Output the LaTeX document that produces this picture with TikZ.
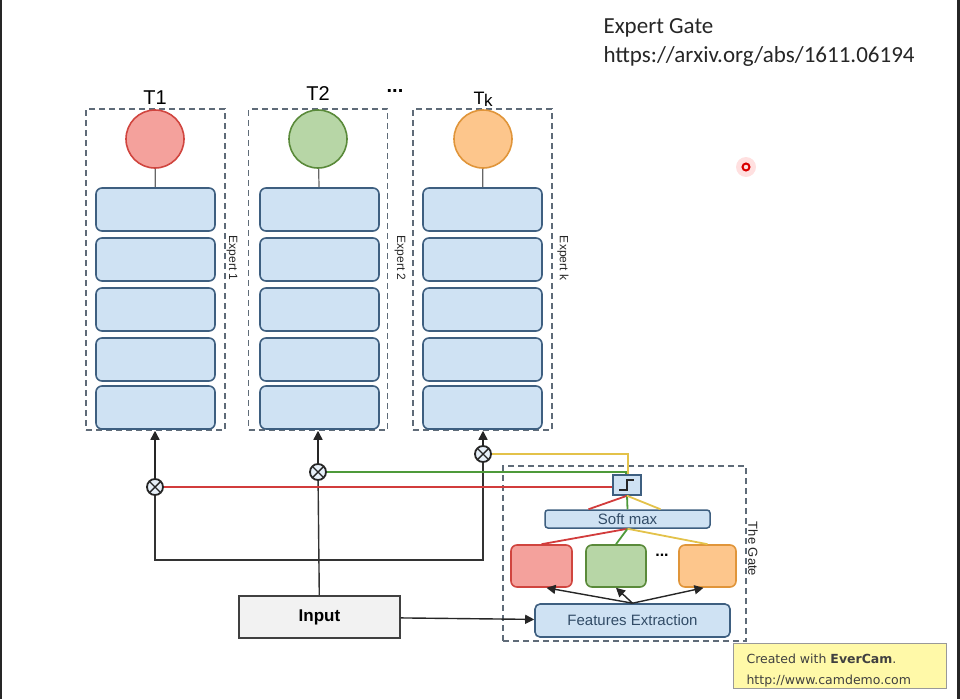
\documentclass[tikz,border=0pt]{standalone}
\usepackage{fontspec}
\setmainfont{Liberation Sans}
\newfontfamily\notefont{Carlito}
\newfontfamily\camfont{DejaVu Sans}
\usetikzlibrary{arrows.meta, positioning}

\definecolor{layerfill}{HTML}{CFE2F3}
\definecolor{layerdraw}{HTML}{3E5F80}
\definecolor{dashgray}{HTML}{5F6B78}
\definecolor{redfill}{HTML}{F4A19C}
\definecolor{reddraw}{HTML}{D0453F}
\definecolor{greenfill}{HTML}{B7D6A6}
\definecolor{greendraw}{HTML}{5A8A3A}
\definecolor{orangefill}{HTML}{FDC68C}
\definecolor{orangedraw}{HTML}{E0953A}
\definecolor{redwire}{HTML}{D23C3C}
\definecolor{greenwire}{HTML}{4E9A3A}
\definecolor{yellowwire}{HTML}{E3C24A}
\definecolor{notefill}{HTML}{FFF9A8}

\begin{document}
\begin{tikzpicture}[
  x=1pt, y=-1pt,
  expert/.style={rectangle, draw=dashgray, line width=1.5pt, dash pattern=on 6pt off 4pt, minimum width=139pt, minimum height=321pt},
  layer/.style={rectangle, draw=layerdraw, fill=layerfill, line width=1.6pt, rounded corners=6pt, minimum width=119pt, minimum height=43pt},
  task/.style={circle, line width=1.6pt, minimum size=58pt},
  gatebox/.style={rectangle, line width=1.6pt, rounded corners=6pt, minimum width=60pt, minimum height=42pt},
  mult/.style={circle, draw=black!85, line width=1.8pt, fill=layerfill!50, minimum size=16pt, inner sep=0pt,
    path picture={\draw[line width=1.4pt, black!85] (path picture bounding box.north west) -- (path picture bounding box.south east)
      (path picture bounding box.north east) -- (path picture bounding box.south west);}},
  arrow/.style={-{Triangle[length=9pt,width=9pt]}, line width=1.4pt, black!85},
  wire/.style={line width=1.4pt, black!80},
  colwire/.style={line width=1.8pt},
  tag/.style={font=\fontsize{12}{12}\selectfont, rotate=-90, black!85},
  title/.style={font=\fontsize{20}{20}\selectfont, anchor=base}
]
\useasboundingbox (0,0) rectangle (960,699);

% Frame edges
\fill[black!85] (0,0) rectangle (2,699);
\fill[black!85] (957,0) rectangle (960,699);

% Experts
\node[expert] (E1) at (155.5,269.5) {};
\node[expert] (E2) at (318,269.5) {};
\node[expert] (Ek) at (482.5,269.5) {};
\node[tag] at (232,258) {Expert 1};
\node[tag] at (400,258) {Expert 2};
\node[tag] at (563,258) {Expert k};

\foreach \c/\x in {1/155.5, 2/319.5, k/482.5} {
  \foreach \i/\y in {1/209.5, 2/259.5, 3/309.5, 4/359.5, 5/407.5} {
    \node[layer] (L\c\i) at (\x,\y) {};
  }
}

% Task towers
\node[task, draw=reddraw, fill=redfill] (T1) at (155,139) {};
\node[task, draw=greendraw, fill=greenfill] (T2) at (318,139) {};
\node[task, draw=orangedraw, fill=orangefill] (Tk) at (483,139) {};
\draw[black!60, line width=1.2pt] (T1) -- (L11);
\draw[black!60, line width=1.2pt] (T2) -- (L21);
\draw[black!60, line width=1.2pt] (Tk) -- (Lk1);

\node[title] (t1) at (155,104) {T1};
\node[title] (t2) at (318,100) {T2};
\node[title, font=\fontsize{18}{18}\selectfont] (tk) at (483,104) {T\kern-0.5pt\raisebox{-2pt}{\fontsize{17}{17}\selectfont k}};
\node[font=\bfseries\fontsize{20}{20}\selectfont] (dots) at (395,91) {...};

% Gating products
\node[mult] (m1) at (155,487) {};
\node[mult] (m2) at (318,472) {};
\node[mult] (mk) at (483,454) {};
\draw[arrow] (m1) -- (m1 |- E1.south);
\draw[arrow] (m2) -- (m2 |- E2.south);
\draw[arrow] (mk) -- (mk |- Ek.south);

% Input
\node[draw=black!75, fill=black!5, line width=1.5pt, minimum width=161pt, minimum height=42pt,
  font=\bfseries\fontsize{17}{17}\selectfont] (input) at (319.5,617) {Input};
\coordinate (split) at (318,560);
\draw[wire] (input) -- (m2);
\draw[wire] (m1) |- (split);
\draw[wire] (mk) |- (split);

% The gate
\node[expert, minimum width=243pt, minimum height=175pt] (gate) at (624.5,553.5) {};
\node[tag, font=\fontsize{13}{13}\selectfont] at (753,549) {The Gate};
\node[draw=layerdraw, fill=layerfill, line width=1.5pt, minimum width=28pt, minimum height=20pt] (step) at (627,485) {};
\draw[line width=1.4pt, black!85] ([shift={(-8,5)}]step.center) -- ++(8,0) -- ++(0,-10) -- ++(7,0);
\node[rectangle, draw=layerdraw, fill=layerfill, line width=1.5pt, rounded corners=3pt, minimum width=165pt, minimum height=18pt,
  inner sep=1pt, font=\fontsize{15}{15}\selectfont, text=layerdraw!80!black] (soft) at (627.5,519) {Soft max};
\node[gatebox, draw=reddraw, fill=redfill, minimum width=61pt] (g1) at (541.5,566) {};
\node[gatebox, draw=greendraw, fill=greenfill] (g2) at (616,566) {};
\node[gatebox, draw=orangedraw, fill=orangefill, minimum width=57pt] (g3) at (707.5,566) {};
\node[font=\bfseries\fontsize{16}{16}\selectfont] (gdots) at (662,555) {...};
\node[rectangle, draw=layerdraw, fill=layerfill, line width=1.6pt, rounded corners=5pt, minimum width=195pt, minimum height=33pt,
  font=\fontsize{15}{15}\selectfont, text=layerdraw!80!black] (fe) at (632.5,620.5) {Features Extraction};

% Gate wiring
\draw[colwire, redwire] (m1) -- (m1 -| step.west);
\draw[colwire, greenwire] (m2) -| ([xshift=-1pt]step.north);
\draw[colwire, yellowwire] (mk) -| ([xshift=1pt]step.north);
\draw[colwire, redwire] (step.south) -- ([xshift=-39pt]soft.north);
\draw[colwire, greenwire] (step.south) -- (soft.north);
\draw[colwire, yellowwire] (step.south) -- ([xshift=33pt]soft.north);
\draw[colwire, redwire] (soft.south) -- (g1.north);
\draw[colwire, greenwire] (soft.south) -- (g2.north);
\draw[colwire, yellowwire] (soft.south) -- (g3.north);
\draw[arrow] (fe.north) -- ([xshift=5pt]g1.south);
\draw[arrow] (fe.north) -- (g2.south);
\draw[arrow] (fe.north) -- ([xshift=-4pt]g3.south);
\draw[arrow] (input) -- (fe);

% Notes
\node[anchor=base west, font=\notefont\fontsize{23}{23}\selectfont, text=black!85] (paper) at (600,33) {Expert Gate};
\node[anchor=base west, font=\notefont\fontsize{23}{23}\selectfont, text=black!85] (link) at (600,62) {https://arxiv.org/abs/1611.06194};
\fill[red!12] (746,167) circle (10);
\draw[red!85!black, line width=2pt] (746,167) circle (3.5);
\node[draw=black!40, fill=notefill, line width=1pt, minimum width=213pt, minimum height=45pt] (cam) at (839.5,665.5) {};
\node[anchor=base west, font=\camfont\fontsize{12.5}{12.5}\selectfont, text=black!75] (camtext) at (743,663) {Created with \textbf{EverCam}.};
\node[anchor=base west, font=\camfont\fontsize{12.5}{12.5}\selectfont, text=black!75] (camurl) at (743,684) {http://www.camdemo.com};

\end{tikzpicture}
\end{document}
